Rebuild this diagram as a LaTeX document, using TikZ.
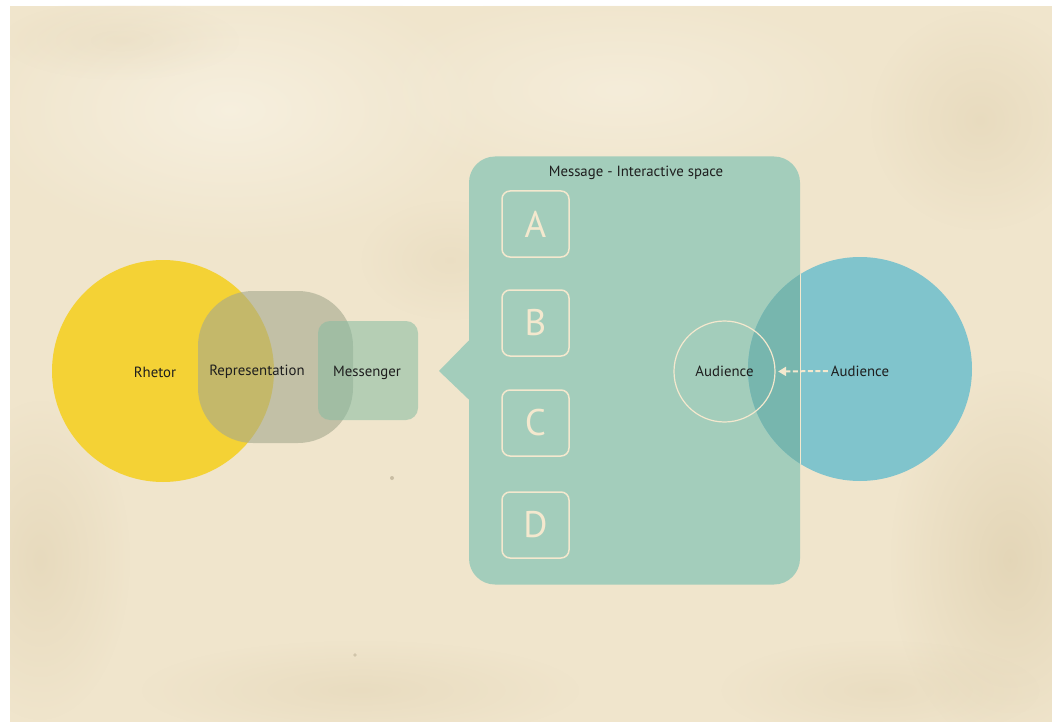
\documentclass[tikz,border=0pt]{standalone}
\usepackage{fontspec}
\setmainfont{PT Sans}
\usetikzlibrary{fadings,arrows.meta}

\definecolor{paper}{HTML}{F0E5CC}
\definecolor{stain}{HTML}{CDBA92}
\definecolor{paperlight}{HTML}{F8F2E3}
\definecolor{cream}{HTML}{F4E8CE}
\definecolor{rhetorfill}{HTML}{F4D235}
\definecolor{reprfill}{HTML}{A4A88E}
\definecolor{messfill}{HTML}{86BCA2}
\definecolor{msgfill}{HTML}{A3CDBB}
\definecolor{audfill}{HTML}{80C4CC}
\definecolor{overlapfill}{HTML}{77B6AE}
\definecolor{ink}{HTML}{1E1E1E}

\tikzfading[name=softspot, inner color=transparent!0, outer color=transparent!100]

\begin{document}
\begin{tikzpicture}[x=1pt, y=-1pt,
  label/.style={text=ink, font=\fontsize{14.8}{17}\selectfont, inner sep=3pt},
  letterbox/.style={draw=cream, line width=1.5pt, rounded corners=8pt,
    minimum width=67pt, minimum height=66pt, inner sep=0pt,
    text=cream, font=\fontsize{37}{40}\selectfont},
  blot/.style={fill=stain, path fading=softspot}
]
\useasboundingbox (0,0) rectangle (1052,722);

% paper sheet with soft stains
\fill[white] (0,0) rectangle (1052,722);
\fill[paper] (10,6) rectangle (1052,722);
\begin{scope}
  \clip (10,6) rectangle (1052,722);
  \fill[paperlight, path fading=softspot, opacity=0.8] (230,110) ellipse (260 and 140);
  \fill[paperlight, path fading=softspot, opacity=0.6] (620,90) ellipse (260 and 100);
  \fill[blot, opacity=0.35] (1010,560) ellipse (120 and 190);
  \fill[blot, opacity=0.25] (40,560) ellipse (90 and 160);
  \fill[blot, opacity=0.22] (980,120) ellipse (110 and 110);
  \fill[blot, opacity=0.2] (360,690) ellipse (220 and 50);
  \fill[blot, opacity=0.18] (880,690) ellipse (160 and 50);
  \fill[blot, opacity=0.15] (450,260) ellipse (90 and 60);
  \fill[blot, opacity=0.15] (120,40) ellipse (120 and 40);
  \fill[stain!70!black, opacity=0.4] (392,478) circle (2);
  \fill[stain!70!black, opacity=0.3] (355,655) circle (1.8);
\end{scope}

% rhetor side
\node[circle, fill=rhetorfill, minimum size=222pt, inner sep=0pt] (rhetor) at (163,371) {};
\node[fill=reprfill, fill opacity=0.6, rounded corners=55pt,
  minimum width=155pt, minimum height=152pt, inner sep=0pt] (repr) at (275.5,367) {};
\node[fill=messfill, fill opacity=0.55, rounded corners=12pt,
  minimum width=100pt, minimum height=99pt, inner sep=0pt] (mess) at (368,370.5) {};

\node[label] (rhetorlbl) at (155,372) {Rhetor};
\node[label] (reprlbl) at (257,372) {Representation};
\node[label] (messlbl) at (367,373) {Messenger};

% message speech bubble
\node[fill=msgfill, rounded corners=26pt, minimum width=331pt,
  minimum height=428pt, inner sep=0pt] (msg) at (634.5,370.5) {};
\coordinate (tip) at (439,371);
\fill[msgfill] ([yshift=-29pt]msg.west) -- (tip) -- ([yshift=30pt]msg.west)
  -- ([xshift=2pt,yshift=30pt]msg.west) -- ([xshift=2pt,yshift=-29pt]msg.west) -- cycle;

\node[label] (msgtitle) at (636,173) {Message - Interactive space};

\node[letterbox] (A) at (535.5,224) {A};
\node[letterbox] (B) at (535.5,323) {B};
\node[letterbox] (C) at (535.5,423) {C};
\node[letterbox] (D) at (535.5,525) {D};

% audience side
\node[circle, fill=audfill, minimum size=224pt, inner sep=0pt] (aud) at (860,369) {};
\begin{scope}
  \clip (msg.north west) rectangle (msg.south east);
  \fill[overlapfill] (aud.center) circle (112);
\end{scope}
\begin{scope}
  \clip (aud.center) circle (112);
  \draw[cream, line width=1.3pt] (msg.north east) -- (msg.south east);
\end{scope}

\node[circle, draw=cream, line width=1.2pt, minimum size=101pt, inner sep=0pt,
  label] (audin) at (724.5,371.5) {Audience};
\node[label] (audlbl) at (860,371) {Audience};

\draw[cream, line width=2pt, dash pattern=on 5pt off 2.5pt,
  -{Triangle[length=8pt, width=9pt]}, shorten >=2.5pt, shorten <=0pt]
  (audlbl.west) -- (audin.east);

\end{tikzpicture}
\end{document}
